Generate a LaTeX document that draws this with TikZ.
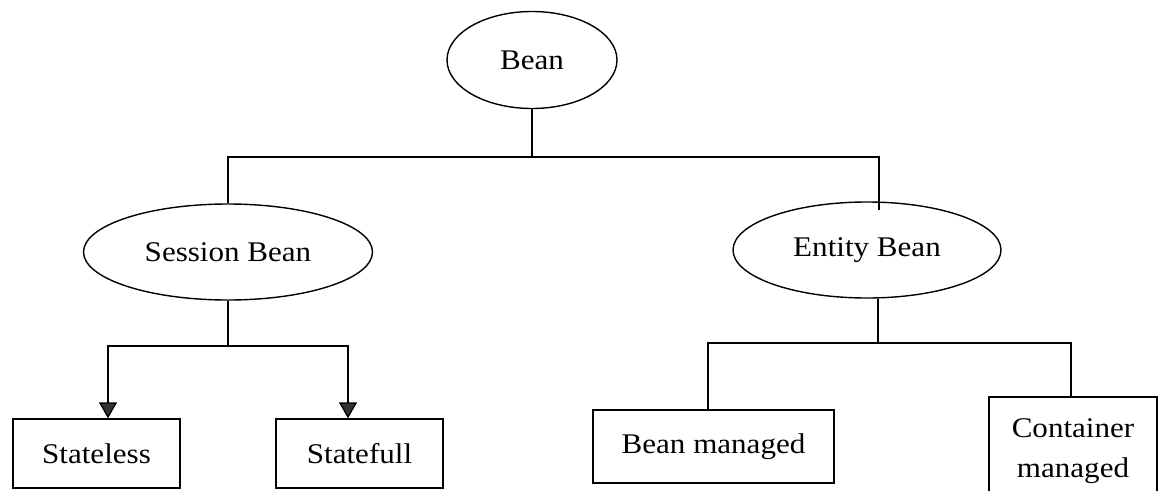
\documentclass[tikz,border=0pt]{standalone}
\usepackage{fontspec}
\setmainfont{Liberation Serif}[FakeStretch=1.09]
\usetikzlibrary{shapes.geometric,arrows.meta}
\begin{document}
\begin{tikzpicture}[x=1pt,y=-1pt,
  every node/.style={font=\fontsize{28.5}{40}\selectfont, inner sep=0pt},
  oval/.style={draw, ellipse, line width=1.4pt},
  leaf/.style={draw, rectangle, line width=1.3pt, align=center},
  link/.style={draw, line width=1.3pt},
  arr/.style={link, -{Triangle[width=18pt,length=16pt]}, arrows={[fill=black!80]}}]
  \useasboundingbox (0,0) rectangle (1159,490);

  % top level
  \node[oval, minimum width=170pt, minimum height=97pt] (bean) at (532,60) {Bean};

  % second level
  \node[oval, minimum width=289pt, minimum height=96pt] (session) at (228,252) {Session Bean};
  \node[oval, minimum width=268pt, minimum height=96pt] (entity) at (867,250) {Entity Bean};

  % leaves
  \node[leaf, minimum width=167pt, minimum height=69pt] (stateless) at (96.5,453.5) {Stateless};
  \node[leaf, minimum width=167pt, minimum height=69pt] (statefull) at (359.5,453.5) {Statefull};
  \node[leaf, minimum width=241pt, minimum height=73pt] (beanman) at (713.5,446.5) {Bean managed};
  \node[leaf, minimum width=168pt, minimum height=108pt] (contman) at (1073,451) {Container\\managed};

  % junction points of the tree
  \coordinate (j1) at (532,157);
  \coordinate (etop) at (879,210);
  \coordinate (j2) at (228,346);
  \coordinate (j3) at (878,343);

  % Bean -> Session / Entity
  \draw[link] (bean.south) -- (j1);
  \draw[link] (session.north) |- (j1) -| (etop);

  % Session -> Stateless / Statefull
  \draw[link] (session.south) -- (j2);
  \draw[arr] (j2) -| ([xshift=11.5pt]stateless.north);
  \draw[arr] (j2) -| ([xshift=-11.5pt]statefull.north);

  % Entity -> Bean managed / Container managed
  \draw[link] ([xshift=11pt]entity.south) -- (j3);
  \draw[link] (j3) -| ([xshift=-5.5pt]beanman.north);
  \draw[link] (j3) -| ([xshift=-2pt]contman.north);
\end{tikzpicture}
\end{document}
